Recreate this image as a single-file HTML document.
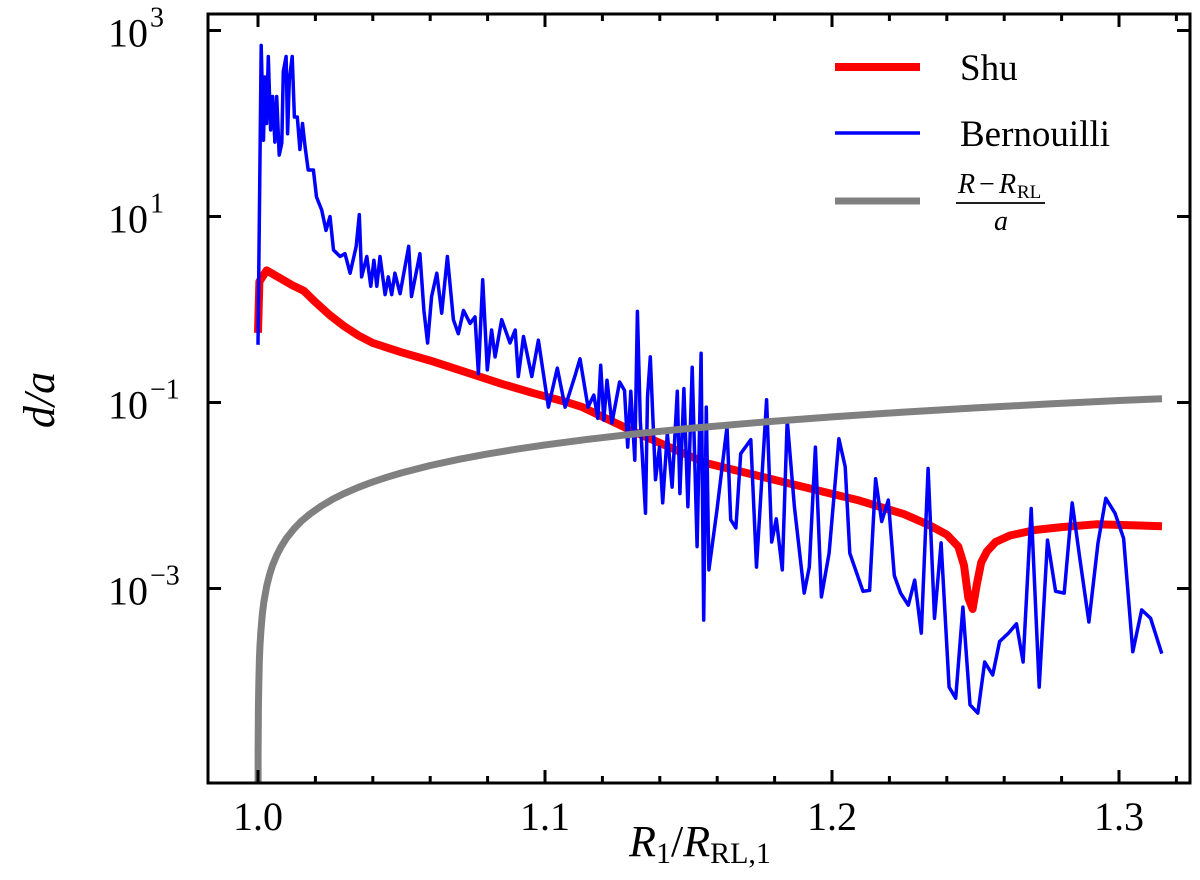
<!DOCTYPE html>
<html><head><meta charset="utf-8">
<style>
html,body{margin:0;background:#fff;width:1200px;height:880px;overflow:hidden;position:relative;}
svg{display:block;}
svg text{font-family:"Liberation Serif",serif;fill:#000;}
</style></head>
<body>
<svg id="chart" width="1200" height="880" style="position:absolute;left:0;top:0" xmlns="http://www.w3.org/2000/svg">
<g id="plot"></g>
</svg>
<script>
// ---- data (x in R1/RRL,1 ; y as log10(d/a)) ----
const shuX=[1.0,1.0005,1.003,1.012,1.016,1.02,1.025,1.03,1.035,1.040,1.05,1.06,1.073,1.085,1.096,1.108,1.113,1.13,1.156,1.181,1.209,1.225,1.234,1.240,1.244,1.246,1.2475,1.249,1.2505,1.252,1.254,1.257,1.262,1.271,1.28,1.292,1.315];
const shuLog=[-0.25,0.3,0.42,0.26,0.2,0.08,-0.06,-0.18,-0.28,-0.36,-0.46,-0.55,-0.68,-0.80,-0.90,-1.00,-1.05,-1.30,-1.65,-1.84,-2.05,-2.2,-2.32,-2.42,-2.55,-2.75,-3.1,-3.22,-2.95,-2.72,-2.6,-2.5,-2.43,-2.37,-2.34,-2.31,-2.33];
const berX=[1.0,1.0011,1.0019,1.0024,1.0030,1.0036,1.0044,1.0051,1.0059,1.0065,1.0074,1.0083,1.0088,1.0098,1.0103,1.0109,1.0119,1.0127,1.0137,1.0146,1.0155,1.0164,1.0175,1.0193,1.0204,1.0222,1.0237,1.0251,1.0263,1.0286,1.0303,1.0321,1.0342,1.0353,1.0361,1.0379,1.0393,1.0404,1.0414,1.0425,1.0443,1.0454,1.0466,1.0477,1.0495,1.0525,1.0535,1.0564,1.0578,1.0591,1.0605,1.0623,1.0640,1.0660,1.0681,1.0698,1.0716,1.0739,1.0756,1.0768,1.0783,1.0799,1.0814,1.0826,1.0849,1.0878,1.0896,1.0907,1.0925,1.0954,1.0977,1.1012,1.1043,1.1070,1.1105,
1.1122,1.1150,1.1170,1.1184,1.1194,1.1205,1.1216,1.1233,1.1260,1.1277,1.1288,1.1299,1.1313,1.1322,1.1332,1.1350,1.1357,1.1367,1.1385,1.1399,1.1410,1.1426,1.1443,1.1461,1.1470,1.1484,1.1498,1.1513,1.1530,1.1544,1.1553,1.1562,1.1571,1.1599,1.1634,1.1647,1.1665,1.1682,1.1717,1.1737,1.1772,1.1790,1.1806,1.1827,1.1844,1.1869,1.1903,1.1921,1.1942,1.1963,1.1990,1.2024,1.2046,1.2062,1.2108,1.2131,1.2152,1.2173,1.2196,1.2217,1.2239,1.2266,1.2288,1.2311,1.2335,1.2357,1.2380,1.2408,1.2431,1.2456,1.2481,1.2508,1.2532,1.2560,1.2584,1.2615,1.2643,1.2666,1.2694,1.2722,1.2751,1.2779,1.2809,1.2837,1.2864,1.2895,1.2927,1.2954,1.2986,1.3016,1.3048,1.3079,1.3110,1.3149];
const berLog=[-0.38,2.84,1.82,2.50,2.00,2.72,1.93,2.29,1.80,2.29,1.66,1.79,2.56,2.72,1.89,2.47,2.72,2.07,2.07,1.72,2.00,1.75,1.50,1.50,1.21,1.07,0.85,1.00,0.64,0.57,0.60,0.39,0.68,1.02,0.35,0.57,0.25,0.53,0.25,0.57,0.16,0.35,0.16,0.39,0.17,0.68,0.14,0.60,-0.01,-0.36,0.14,0.39,-0.04,0.57,-0.11,-0.26,-0.01,-0.15,-0.08,-0.69,0.32,-0.65,-0.22,-0.51,-0.11,-0.36,-0.22,-0.72,-0.29,-0.72,-0.33,-1.05,-0.63,-1.05,-0.71,
-0.53,-1.05,-0.92,-1.17,-0.60,-1.19,-0.76,-1.22,-0.78,-0.87,-1.48,-0.88,-1.62,-0.02,-1.19,-2.19,-0.94,-0.51,-1.83,-1.48,-2.08,-1.33,-1.91,-0.88,-1.98,-0.85,-2.12,-0.62,-2.55,-0.47,-3.34,-1.05,-2.80,-2.16,-1.26,-2.26,-2.35,-1.55,-1.40,-2.77,-0.97,-2.50,-2.25,-2.80,-1.19,-2.12,-3.05,-2.77,-1.48,-3.09,-2.62,-1.39,-1.69,-2.62,-3.03,-3.02,-1.82,-2.28,-2.05,-2.86,-3.05,-3.18,-2.91,-3.48,-1.71,-3.32,-2.51,-4.06,-4.18,-3.20,-4.25,-4.34,-3.79,-3.93,-3.57,-3.48,-3.38,-3.79,-2.14,-4.06,-2.48,-3.03,-3.05,-2.08,-2.69,-3.36,-2.51,-2.03,-2.19,-2.46,-3.68,-3.23,-3.32,-3.70];
const greyX=[1.0,1.00001,1.00002,1.00003,1.00005,1.00007,1.0001,1.00015,1.0002,1.0003,1.0005,1.0007,1.001,1.0015,1.002,1.003,1.004,1.005,1.0065,1.008,1.01,1.0125,1.015,1.018,1.022,1.026,1.03,1.035,1.04,1.045,1.05,1.06,1.07,1.08,1.09,1.1,1.115,1.13,1.15,1.175,1.2,1.225,1.25,1.275,1.3,1.315];
const greyVal=[1e-7,3.5e-6,7e-6,1.05e-5,1.75e-5,2.45e-5,3.5e-5,5.25e-5,7e-5,1.05e-4,1.75e-4,2.45e-4,3.5e-4,5.25e-4,7e-4,1.05e-3,1.4e-3,1.75e-3,2.275e-3,2.8e-3,3.5e-3,4.375e-3,5.25e-3,6.3e-3,7.7e-3,9.1e-3,0.0105,0.01225,0.014,0.01575,0.0175,0.021,0.0245,0.028,0.0315,0.035,0.04025,0.0455,0.0525,0.06125,0.07,0.07875,0.0875,0.09625,0.105,0.11];
const xTicks=[1.0,1.1,1.2,1.3];
const xTickLabels=["1.0","1.1","1.2","1.3"];
const yTicks=[3,1,-1,-3];
const yTickExp=["3","1","−1","−3"];

// ---- axes ----
const L=208,R=1190,T=14,B=783;
const sx=v=>258+(v-1)*2870;
const sy=lg=>30.5+(3-lg)*93;
const NS="http://www.w3.org/2000/svg";
const g=document.getElementById('plot');
function mk(tag,attrs,parent){const e=document.createElementNS(NS,tag);for(const k in attrs)e.setAttribute(k,attrs[k]);(parent||g).appendChild(e);return e;}

const defs=mk('defs',{});
const cp=mk('clipPath',{id:'clip'},defs);
mk('rect',{x:L,y:T,width:R-L,height:B-T},cp);

function poly(xs,ys,color,w,name){
  const pts=xs.map((x,i)=>sx(x).toFixed(1)+','+sy(ys[i]).toFixed(1)).join(' ');
  const p=mk('polyline',{points:pts,fill:'none',stroke:color,'stroke-width':w,'stroke-linejoin':'round','clip-path':'url(#clip)'});
  
  
}
poly(shuX,shuLog,'#ff0000',8,'shu-line');
poly(berX,berLog,'#0000ff',3.5,'bernouilli-line');
poly(greyX,greyVal.map(v=>Math.log10(v)),'#808080',7,'roche-lobe-line');

// frame
const fr=mk('rect',{x:L,y:T,width:R-L,height:B-T,fill:'none',stroke:'#000','stroke-width':3});



// x ticks
for(let v=0.98;v<=1.3401;v+=0.02){
  const X=sx(v); if(X<L||X>R) continue;
  const major=Math.abs(Math.round(v*10)-v*10)<1e-6;
  const len=major?13:7;
  mk('line',{x1:X,x2:X,y1:B,y2:B-len,stroke:'#000','stroke-width':3});
  mk('line',{x1:X,x2:X,y1:T,y2:T+len,stroke:'#000','stroke-width':3});
}
xTicks.forEach((v,i)=>{
  const t=mk('text',{x:sx(v),y:830,'text-anchor':'middle','font-size':40});
  t.textContent=xTickLabels[i];
  
  
});
yTicks.forEach((lg,i)=>{
  const Y=sy(lg);
  mk('line',{x1:L,x2:L+13,y1:Y,y2:Y,stroke:'#000','stroke-width':3});
  mk('line',{x1:R,x2:R-13,y1:Y,y2:Y,stroke:'#000','stroke-width':3});
  const t=mk('text',{x:148,y:Y+16,'text-anchor':'end','font-size':40});
  t.textContent='10';
  
  
  const e=mk('text',{x:150,y:Y-4,'text-anchor':'start','font-size':28});
  e.textContent=yTickExp[i];
});
</script>
<svg style="position:absolute;left:0;top:0" width="1200" height="880" xmlns="http://www.w3.org/2000/svg">
<g>
  <line x1="835" y1="67" x2="920" y2="67" stroke="#ff0000" stroke-width="8"/>
  <text x="960" y="80" font-size="37" font-family="Liberation Serif, serif">Shu</text>
  <line x1="835" y1="133" x2="920" y2="133" stroke="#0000ff" stroke-width="3.5"/>
  <text x="960" y="146" font-size="37" font-family="Liberation Serif, serif">Bernouilli</text>
  <line x1="835" y1="201" x2="920" y2="201" stroke="#808080" stroke-width="7"/>
  <g font-family="Liberation Serif, serif">
    <text x="958" y="193" font-size="28" font-style="italic">R</text>
    <text x="979" y="193" font-size="28">−</text>
    <text x="999" y="193" font-size="28" font-style="italic">R</text>
    <text x="1017" y="198" font-size="19">RL</text>
    <line x1="956" y1="203" x2="1045" y2="203" stroke="#000" stroke-width="1.8"/>
    <text x="994" y="230" font-size="28" font-style="italic">a</text>
  </g>
</g>
<text transform="translate(54,400) rotate(-90)" text-anchor="middle" font-size="44" font-family="Liberation Serif, serif" font-style="italic">d/a</text>
<text x="700" y="856" text-anchor="middle" font-size="44" font-family="Liberation Serif, serif"><tspan font-style="italic">R</tspan><tspan font-size="30" dy="7">1</tspan><tspan dy="-7">/</tspan><tspan font-style="italic">R</tspan><tspan font-size="30" dy="7">RL,1</tspan></text>
</svg>
</body></html>
